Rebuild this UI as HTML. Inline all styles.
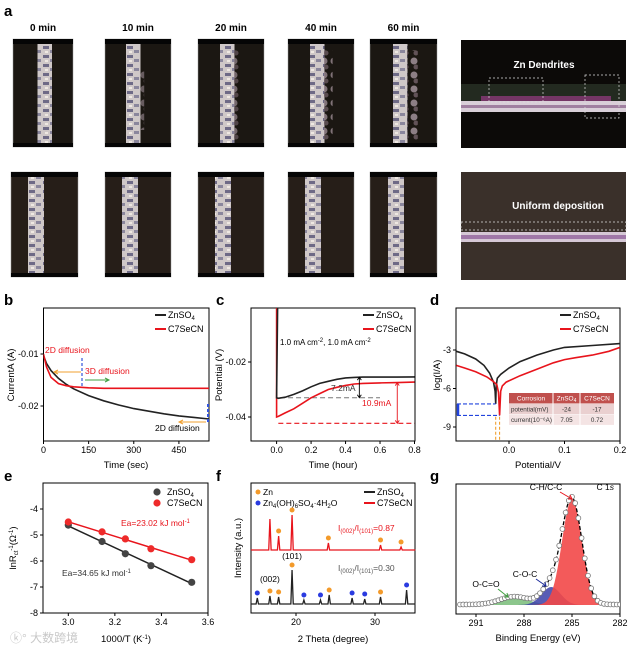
<!DOCTYPE html>
<html><head><meta charset="utf-8">
<style>
html,body{margin:0;padding:0;background:#fff;}
svg{display:block;font-family:"Liberation Sans",Arial,sans-serif;}
</style></head>
<body>
<svg id="fig" width="632" height="650" viewBox="0 0 632 650" xmlns="http://www.w3.org/2000/svg">
<defs>
<pattern id="stripTex" width="14" height="9" patternUnits="userSpaceOnUse">
<rect width="14" height="9" fill="#cfc8c8"/>
<rect x="1" y="1" width="6" height="3" fill="#6e6a86"/>
<rect x="8" y="5" width="5" height="3" fill="#8a869c"/>
<rect x="3" y="6" width="3" height="2" fill="#eee8e2"/>
</pattern>
<pattern id="blobTex" width="10" height="14" patternUnits="userSpaceOnUse">
<rect width="10" height="14" fill="none"/>
<circle cx="4" cy="5" r="3.5" fill="#9a8a92"/>
<circle cx="6" cy="11" r="2.5" fill="#6a5a60"/>
</pattern>
<clipPath id="clipB"><rect x="43.5" y="308" width="165.5" height="133"/></clipPath>
<clipPath id="clipC"><rect x="251" y="308" width="164" height="133"/></clipPath>
<clipPath id="clipD"><rect x="456" y="308" width="164" height="133"/></clipPath>
<clipPath id="clipG"><rect x="456" y="484" width="164" height="130"/></clipPath>
</defs>
<g id="panelA"></g>
<g id="charts"></g>
<text x="10" y="642" font-size="12" fill="#c8c8c8" font-family="'Liberation Sans','Noto Sans CJK SC',sans-serif">ⓚ° 大数跨境</text>
</svg>
<script>
// ---------- data ----------
const bTime=[0,10,25,50,75,100,150,200,250,300,350,400,450,500,550];
const bZnSO4=[-0.0103,-0.0118,-0.0132,-0.0147,-0.0158,-0.0167,-0.0180,-0.0190,-0.0198,-0.0205,-0.0210,-0.0215,-0.0219,-0.0222,-0.0225];
const bC7SeCN=[-0.0100,-0.0125,-0.0145,-0.0157,-0.0161,-0.0163,-0.0165,-0.0166,-0.0166,-0.0166,-0.0166,-0.0166,-0.0166,-0.0166,-0.0166];
const bXTicks=[0,150,300,450];
const bYTicks=[-0.01,-0.02];

const cHours=[0,0.01,0.05,0.1,0.15,0.2,0.25,0.3,0.35,0.4,0.45,0.5,0.6,0.7,0.8];
const cZnSO4=[-0.033,-0.0332,-0.0328,-0.0318,-0.0305,-0.029,-0.0278,-0.027,-0.0263,-0.0258,-0.0256,-0.0255,-0.0255,-0.0255,-0.0254];
const cC7SeCN=[-0.040,-0.0398,-0.0385,-0.037,-0.035,-0.033,-0.0315,-0.030,-0.0292,-0.0285,-0.028,-0.0278,-0.0276,-0.0275,-0.0273];
const cXTicks=[0.0,0.2,0.4,0.6,0.8];
const cYTicks=[-0.02,-0.04];

const dZnX=[-0.095,-0.08,-0.06,-0.045,-0.035,-0.028,-0.025,-0.024,-0.023,-0.021,-0.015,0,0.02,0.05,0.08,0.1,0.15,0.2];
const dZnY=[-3.1,-3.3,-3.7,-4.2,-4.8,-5.5,-6.2,-7.2,-5.8,-5.2,-4.9,-4.4,-3.9,-3.4,-3.0,-2.8,-2.65,-2.5];
const dC7X=[-0.095,-0.08,-0.06,-0.04,-0.03,-0.022,-0.019,-0.017,-0.015,-0.012,-0.005,0.02,0.05,0.08,0.1,0.12,0.15,0.18,0.2];
const dC7Y=[-4.2,-4.4,-4.7,-5.1,-5.4,-5.7,-6.3,-8.1,-6.2,-5.8,-5.5,-5.0,-4.5,-4.0,-3.75,-3.6,-3.4,-3.1,-2.8];
const dXTicks=[0.0,0.1,0.2];
const dYTicks=[-3,-6,-9];
const dTableRows=[["potential(mV)","-24","-17"],["current(10⁻⁶A)","7.05","0.72"]];

const eX=[3.0,3.145,3.245,3.355,3.53];
const eZnSO4=[-4.62,-5.25,-5.72,-6.18,-6.82];
const eC7SeCN=[-4.5,-4.88,-5.15,-5.53,-5.95];
const eXTicks=[3.0,3.2,3.4,3.6];
const eYTicks=[-4,-5,-6,-7,-8];

const fRedPos=[16.7,17.8,19.5,24.1,30.7,33.3];
const fRedH=[31,14,35,7,5,3];
const fBlackPos=[15.1,16.7,17.8,19.5,21.0,23.1,24.2,27.1,28.7,30.7,34.0];
const fBlackH=[6,8,7,34,4,4,9,6,5,7,14];
const fBlackPhase=["b","o","o","o","b","b","o","b","b","o","b"];
const fRedPhase=["n","o","o","o","o","o"];
const fXTicks=[20,30];

const gCenters=[285.0,286.3,288.6];
const gHeights=[1.0,0.17,0.075];
const gSigmas=[0.62,0.6,0.9];
const gColors=["#f24848","#3b3fa8","#7fc07f"];
const gXTicks=[291,288,285,282];

// ---------- helpers ----------
const NS='http://www.w3.org/2000/svg';
const svg=document.getElementById('charts');
function el(tag,attrs,parent){const e=document.createElementNS(NS,tag);for(const k in attrs)e.setAttribute(k,attrs[k]);(parent||svg).appendChild(e);return e;}
function txt(x,y,s,attrs,parent){const e=el('text',Object.assign({x:x,y:y,'font-size':9},attrs||{}),parent);e.innerHTML=s;return e;}
function lin(d0,d1,r0,r1){return v=>r0+(v-d0)*(r1-r0)/(d1-d0);}
function pathOf(xs,ys,fx,fy){return xs.map((v,i)=>(i?'L':'M')+fx(v).toFixed(1)+','+fy(ys[i]).toFixed(1)).join('');}
function box(x0,y0,x1,y1,name){const r=el('rect',{x:x0,y:y0,width:x1-x0,height:y1-y0,fill:'none',stroke:'#000','stroke-width':1});

return r;}
function xTicks(vals,fx,yb,fmt,name){vals.forEach(v=>{const t=el('line',{x1:fx(v),x2:fx(v),y1:yb,y2:yb+3,stroke:'#000'});


const l=txt(fx(v),yb+12,fmt(v),{'text-anchor':'middle'});

});}
function yTicks(vals,fy,xl,fmt,name){vals.forEach(v=>{const t=el('line',{x1:xl-3,x2:xl,y1:fy(v),y2:fy(v),stroke:'#000'});


const l=txt(xl-5,fy(v)+3,fmt(v),{'text-anchor':'end'});

});}
function label(x,y,s,name,attrs){const t=txt(x,y,s,attrs);

return t;}
function legendLine(x,y,color,s,name){const l=el('line',{x1:x,x2:x+11,y1:y,y2:y,stroke:color,'stroke-width':2});


label(x+13,y+3,s,name);}

// ---------- panel a ----------
const A=document.getElementById('panelA');
const times=["0 min","10 min","20 min","40 min","60 min"];
const topX=[[13,73],[105,171],[198,264],[288,354],[370,437]];
const botX=[[11,78],[105,171],[198,264],[288,354],[370,437]];
const topStrip=[37.5,126,220,310,393];
const botStrip=[28,122,215,305,388];
times.forEach((t,i)=>{
 const lt=txt((topX[i][0]+topX[i][1])/2,31,t,{'text-anchor':'middle','font-size':10,'font-weight':'bold'},A);
 
 
 const r1=el('rect',{x:topX[i][0],y:39,width:topX[i][1]-topX[i][0],height:108,fill:'#1b1712',stroke:'#999','stroke-width':0.5},A);
 
 
 el('rect',{x:topX[i][0],y:39,width:topX[i][1]-topX[i][0],height:5,fill:'#050505'},A);
 el('rect',{x:topX[i][0],y:143,width:topX[i][1]-topX[i][0],height:4,fill:'#050505'},A);
 const s1=el('rect',{x:topStrip[i],y:44,width:14.5,height:99,fill:'url(#stripTex)'},A);
 
 
 if(i>0){const b=el('rect',{x:topStrip[i]+14,y:50+(i>1?0:20),width:2+i*2.2,height:90-(i>1?0:30),fill:'url(#blobTex)',opacity:0.5+i*0.1},A);
 
 }
 const r2=el('rect',{x:botX[i][0],y:172,width:botX[i][1]-botX[i][0],height:105,fill:'#261e18',stroke:'#999','stroke-width':0.5},A);
 
 
 el('rect',{x:botX[i][0],y:172,width:botX[i][1]-botX[i][0],height:5,fill:'#050505'},A);
 el('rect',{x:botX[i][0],y:273,width:botX[i][1]-botX[i][0],height:4,fill:'#050505'},A);
 const s2=el('rect',{x:botStrip[i],y:177,width:16,height:96,fill:'url(#stripTex)'},A);
 
 
});
{
 const r=el('rect',{x:461,y:40,width:165,height:108,fill:'#0c0a08'},A);
 
 
 el('rect',{x:461,y:84,width:165,height:17,fill:'#3a4a38',opacity:0.5},A);
 el('rect',{x:481,y:96,width:130,height:8,fill:'#8a3a78',opacity:0.8},A);
 el('rect',{x:461,y:101,width:165,height:11,fill:'#d9cfd8'},A);
 el('rect',{x:461,y:105,width:165,height:3,fill:'#a080a0'},A);
 el('rect',{x:489,y:78,width:54,height:24,fill:'none',stroke:'#ddd','stroke-dasharray':'2,2','stroke-width':0.7},A);
 el('rect',{x:585,y:75,width:34,height:43,fill:'none',stroke:'#ddd','stroke-dasharray':'2,2','stroke-width':0.7},A);
 const t=txt(544,68,'Zn Dendrites',{'text-anchor':'middle','font-size':10,'font-weight':'bold',fill:'#fff'},A);
 
 
 const r2=el('rect',{x:461,y:172,width:165,height:108,fill:'#3a302a'},A);
 
 
 el('rect',{x:461,y:232,width:165,height:10,fill:'#d6c8d6'},A);
 el('rect',{x:461,y:235,width:165,height:4,fill:'#a078a8'},A);
 el('rect',{x:461,y:222,width:165,height:8,fill:'none',stroke:'#ddd','stroke-dasharray':'2,2','stroke-width':0.7},A);
 const u=txt(558,209,'Uniform deposition',{'text-anchor':'middle','font-size':10,'font-weight':'bold',fill:'#fff'},A);
 
 
}
const pa=txt(4,16,'a',{'font-size':15,'font-weight':'bold'},A);



// panel letters
[['b',4,305],['c',216,305],['d',430,305],['e',4,481],['f',216,481],['g',430,481]].forEach(p=>{
 const t=txt(p[1],p[2],p[0],{'font-size':15,'font-weight':'bold'});
 
 });

// ---------- panel b ----------
{
const fx=lin(0,550,43.5,209), fy=lin(-0.01,-0.02,354,406);
box(43.5,308,209,441,'panel-b-plot-area');
xTicks(bXTicks,fx,441,v=>v,'b-x');
yTicks(bYTicks,fy,43.5,v=>v.toFixed(2),'b-y');
label(126,468,'Time (sec)','b-x-axis-title',{'text-anchor':'middle','font-size':9.5});
label(14,375,'CurrentA (A)','b-y-axis-title',{'text-anchor':'middle','font-size':9.5,transform:'rotate(-90 14 375)'});
const g=el('g',{'clip-path':'url(#clipB)'});
const p1=el('path',{d:pathOf(bTime,bZnSO4,fx,fy),fill:'none',stroke:'#222','stroke-width':1.6},g);


const p2=el('path',{d:pathOf(bTime,bC7SeCN,fx,fy),fill:'none',stroke:'#e8141c','stroke-width':1.6},g);


legendLine(155,315,'#222','ZnSO<tspan font-size="6" dy="2">4</tspan>','b-legend-znso4');
legendLine(155,329,'#e8141c','C7SeCN','b-legend-c7secn');
label(45,353,'2D diffusion','b-2d-diffusion-label',{fill:'#e8141c','font-size':8.5});
label(85,374,'3D diffusion','b-3d-diffusion-label',{fill:'#e8141c','font-size':8.5});
label(155,431,'2D diffusion','b-2d-diffusion-label-2',{'font-size':8.5});
el('line',{x1:82,x2:82,y1:358,y2:387,stroke:'#3355dd','stroke-dasharray':'3,2','stroke-width':1.2});
el('line',{x1:208,x2:208,y1:404,y2:423,stroke:'#3355dd','stroke-dasharray':'3,2','stroke-width':2});
el('path',{d:'M81,372H55M58,370L54,372L58,374',fill:'none',stroke:'#f0a030','stroke-width':1});
el('path',{d:'M85,380H108M105,378L109,380L105,382',fill:'none',stroke:'#40a040','stroke-width':1});
el('path',{d:'M206,422H180M183,420L179,422L183,424',fill:'none',stroke:'#f0a030','stroke-width':1});
}

// ---------- panel c ----------
{
const fx=lin(0,0.8,276.6,414.5), fy=lin(-0.02,-0.04,362,417);
box(251,308,415,441,'panel-c-plot-area');
xTicks(cXTicks,fx,441,v=>v.toFixed(1),'c-x');
yTicks(cYTicks,fy,251,v=>v.toFixed(2),'c-y');
label(333,468,'Time (hour)','c-x-axis-title',{'text-anchor':'middle','font-size':9.5});
label(222,375,'Potential (V)','c-y-axis-title',{'text-anchor':'middle','font-size':9.5,transform:'rotate(-90 222 375)'});
const g=el('g',{'clip-path':'url(#clipC)'});
const dz=el('line',{x1:fx(0.02),x2:fx(0.6),y1:fy(cZnSO4[0]),y2:fy(cZnSO4[0]),stroke:'#777','stroke-dasharray':'5,3','stroke-width':1},g);


const dr=el('line',{x1:fx(0.01),x2:fx(0.8),y1:fy(-0.0423),y2:fy(-0.0423),stroke:'#e8141c','stroke-dasharray':'5,3','stroke-width':1.2},g);


const p2=el('path',{d:'M'+fx(0)+',308'+pathOf(cHours,cC7SeCN,fx,fy).replace('M','L'),fill:'none',stroke:'#e8141c','stroke-width':1.6},g);


const p1=el('path',{d:'M'+(fx(0)+1)+',308'+pathOf(cHours,cZnSO4,fx,fy).replace('M','L'),fill:'none',stroke:'#222','stroke-width':1.6},g);


el('path',{d:`M${fx(0.48)},${fy(-0.0255)}V${fy(-0.033)}M${fx(0.48)-2},${fy(-0.0255)+3}L${fx(0.48)},${fy(-0.0255)}L${fx(0.48)+2},${fy(-0.0255)+3}M${fx(0.48)-2},${fy(-0.033)-3}L${fx(0.48)},${fy(-0.033)}L${fx(0.48)+2},${fy(-0.033)-3}`,fill:'none',stroke:'#000','stroke-width':0.9});
el('path',{d:`M${fx(0.7)},${fy(-0.0275)}V${fy(-0.0423)}M${fx(0.7)-2},${fy(-0.0275)+3}L${fx(0.7)},${fy(-0.0275)}L${fx(0.7)+2},${fy(-0.0275)+3}M${fx(0.7)-2},${fy(-0.0423)-3}L${fx(0.7)},${fy(-0.0423)}L${fx(0.7)+2},${fy(-0.0423)-3}`,fill:'none',stroke:'#e8141c','stroke-width':0.9});
label(331,391,'7.2mA','c-7p2-label',{'font-size':8.5,fill:'#333'});
label(362,406,'10.9mA','c-10p9-label',{'font-size':8.5,fill:'#e8141c'});
label(280,345,'1.0 mA cm<tspan font-size="6" dy="-3">-2</tspan><tspan dy="3">, 1.0 mA cm</tspan><tspan font-size="6" dy="-3">-2</tspan>','c-condition-label',{'font-size':8});
legendLine(363,315,'#222','ZnSO<tspan font-size="6" dy="2">4</tspan>','c-legend-znso4');
legendLine(363,329,'#e8141c','C7SeCN','c-legend-c7secn');
}

// ---------- panel d ----------
{
const fx=lin(0,0.2,509,620), fy=lin(-3,-9,350,427);
box(456,308,620,441,'panel-d-plot-area');
xTicks(dXTicks,fx,441,v=>v.toFixed(1),'d-x');
yTicks(dYTicks,fy,456,v=>v,'d-y');
label(538,468,'Potential/V','d-x-axis-title',{'text-anchor':'middle','font-size':9.5});
label(440,375,'log(I/A)','d-y-axis-title',{'text-anchor':'middle','font-size':9.5,transform:'rotate(-90 440 375)'});
const g=el('g',{'clip-path':'url(#clipD)'});
const p1=el('path',{d:pathOf(dZnX,dZnY,fx,fy),fill:'none',stroke:'#222','stroke-width':1.6},g);


const p2=el('path',{d:pathOf(dC7X,dC7Y,fx,fy),fill:'none',stroke:'#e8141c','stroke-width':1.6},g);


el('line',{x1:457,x2:fx(-0.024),y1:fy(-7.2),y2:fy(-7.2),stroke:'#2244dd','stroke-dasharray':'4,2','stroke-width':1.1});
el('line',{x1:457,x2:fx(-0.017),y1:fy(-8.1),y2:fy(-8.1),stroke:'#2244dd','stroke-dasharray':'4,2','stroke-width':1.1});
el('line',{x1:458,x2:458,y1:fy(-7.2),y2:fy(-8.1),stroke:'#2244dd','stroke-width':2.5});
el('line',{x1:fx(-0.024),x2:fx(-0.024),y1:fy(-8.2),y2:441,stroke:'#f0a030','stroke-dasharray':'3,2','stroke-width':1.1});
el('line',{x1:fx(-0.017),x2:fx(-0.017),y1:fy(-8.2),y2:441,stroke:'#f0a030','stroke-dasharray':'3,2','stroke-width':1.1});
const cols=[509,553,580,614];
const th=el('rect',{x:509,y:393,width:105,height:10.5,fill:'#c0504d'});


['Corrosion','ZnSO<tspan font-size="5" dy="1.5">4</tspan>','C7SeCN'].forEach((h,i)=>{
 const t=txt((cols[i]+cols[i+1])/2,400.5,h,{'text-anchor':'middle','font-size':6.5,fill:'#fff'});
 
 });
dTableRows.forEach((row,r)=>{
 const rr=el('rect',{x:509,y:404+r*10.7,width:105,height:10.2,fill:r?'#f4e4e4':'#ead0d0'});
 
 
 row.forEach((c,i)=>{const t=txt(i?(cols[i]+cols[i+1])/2:511,411.5+r*10.7,c,{'text-anchor':i?'middle':'start','font-size':6.3,fill:'#333'});
 
 });
});
[553,580].forEach(x=>el('line',{x1:x,x2:x,y1:393,y2:425,stroke:'#fff','stroke-width':1}));
legendLine(560,315,'#222','ZnSO<tspan font-size="6" dy="2">4</tspan>','d-legend-znso4');
legendLine(560,329,'#e8141c','C7SeCN','d-legend-c7secn');
}

// ---------- panel e ----------
{
const fx=lin(3.0,3.6,68.3,208), fy=lin(-4,-8,509,613);
box(43,483,208,613,'panel-e-plot-area');
xTicks(eXTicks,fx,613,v=>v.toFixed(1),'e-x');
yTicks(eYTicks,fy,43,v=>v,'e-y');
label(126,642,'1000/T (K<tspan font-size="6" dy="-3">-1</tspan><tspan dy="3">)</tspan>','e-x-axis-title',{'text-anchor':'middle','font-size':9.5});
label(16,548,'lnR<tspan font-size="6" dy="2">ct</tspan><tspan font-size="6" dy="-5">-1</tspan><tspan dy="3">(Ω</tspan><tspan font-size="6" dy="-3">-1</tspan><tspan dy="3">)</tspan>','e-y-axis-title',{'text-anchor':'middle','font-size':9.5,transform:'rotate(-90 16 548)'});
function fit(xs,ys){const n=xs.length,mx=xs.reduce((a,b)=>a+b)/n,my=ys.reduce((a,b)=>a+b)/n;let sxy=0,sxx=0;xs.forEach((x,i)=>{sxy+=(x-mx)*(ys[i]-my);sxx+=(x-mx)*(x-mx);});const m=sxy/sxx;return [m,my-m*mx];}
[[eZnSO4,'#222','#444','znso4'],[eC7SeCN,'#e8141c','#ee2a2a','c7secn']].forEach(s=>{
 const f=fit(eX,s[0]);
 const ln=el('line',{x1:fx(eX[0]),x2:fx(eX[eX.length-1]),y1:fy(f[0]*eX[0]+f[1]),y2:fy(f[0]*eX[eX.length-1]+f[1]),stroke:s[1],'stroke-width':1.5});
 
 
 eX.forEach((x,i)=>{const c=el('circle',{cx:fx(x),cy:fy(s[0][i]),r:3.6,fill:s[2]});
 
 });
});
const l1=el('circle',{cx:157,cy:492,r:3.6,fill:'#444'});


label(167,495,'ZnSO<tspan font-size="6" dy="2">4</tspan>','e-legend-znso4');
const l2=el('circle',{cx:157,cy:503,r:3.6,fill:'#ee2a2a'});


label(167,506,'C7SeCN','e-legend-c7secn');
label(121,526,'Ea=23.02 kJ mol<tspan font-size="6" dy="-3">-1</tspan>','e-ea-c7secn-label',{fill:'#e8141c','font-size':8.5});
label(62,576,'Ea=34.65 kJ mol<tspan font-size="6" dy="-3">-1</tspan>','e-ea-znso4-label',{fill:'#333','font-size':8.5});
}

// ---------- panel f ----------
{
const fx=lin(20,30,296,375);
const redBase=550, blackBase=604;
box(251,483,415,613,'panel-f-plot-area');
xTicks(fXTicks,fx,613,v=>v,'f-x');
label(333,642,'2 Theta (degree)','f-x-axis-title',{'text-anchor':'middle','font-size':9.5});
label(241,548,'Intensity (a.u.)','f-y-axis-title',{'text-anchor':'middle','font-size':9.5,transform:'rotate(-90 241 548)'});
function xrd(pos,h,base){let d='M'+fx(14.3)+','+base;const idx=pos.map((p,i)=>i).sort((a,b)=>pos[a]-pos[b]);idx.forEach(i=>{const x=fx(pos[i]);d+='L'+(x-1.2)+','+base+'L'+x+','+(base-h[i])+'L'+(x+1.2)+','+base;});d+='L'+fx(35.1)+','+base;return d;}
const pr=el('path',{d:xrd(fRedPos,fRedH,redBase),fill:'none',stroke:'#e8141c','stroke-width':1.3});


const pb=el('path',{d:xrd(fBlackPos,fBlackH,blackBase),fill:'none',stroke:'#222','stroke-width':1.3});


fRedPos.forEach((p,i)=>{if(fRedPhase[i]==='n')return;const c=el('circle',{cx:fx(p),cy:redBase-fRedH[i]-5,r:2.5,fill:'#f39a2a'});
 
 });
fBlackPos.forEach((p,i)=>{const c=el('circle',{cx:fx(p),cy:blackBase-fBlackH[i]-5,r:2.5,fill:fBlackPhase[i]==='o'?'#f39a2a':'#2a3be0'});
 
 });
label(fx(16.7),582,'(002)','f-002-label',{'text-anchor':'middle','font-size':8.5});
label(fx(19.5),559,'(101)','f-101-label',{'text-anchor':'middle','font-size':8.5});
label(338,531,'I<tspan font-size="6" dy="2">(002)</tspan><tspan dy="-2">/I</tspan><tspan font-size="6" dy="2">(101)</tspan><tspan dy="-2">=0.87</tspan>','f-ratio-c7secn',{fill:'#e8141c','font-size':8.5});
label(338,571,'I<tspan font-size="6" dy="2">(002)</tspan><tspan dy="-2">/I</tspan><tspan font-size="6" dy="2">(101)</tspan><tspan dy="-2">=0.30</tspan>','f-ratio-znso4',{fill:'#555','font-size':8.5});
const z1=el('circle',{cx:258,cy:492,r:2.5,fill:'#f39a2a'});


label(263,495,'Zn','f-legend-zn',{'font-size':8.5});
const z2=el('circle',{cx:258,cy:503,r:2.5,fill:'#2a3be0'});


label(263,506,'Zn<tspan font-size="6" dy="2">4</tspan><tspan dy="-2">(OH)</tspan><tspan font-size="6" dy="2">6</tspan><tspan dy="-2">SO</tspan><tspan font-size="6" dy="2">4</tspan><tspan dy="-2">·4H</tspan><tspan font-size="6" dy="2">2</tspan><tspan dy="-2">O</tspan>','f-legend-zhs',{'font-size':8.5});
legendLine(364,492,'#222','ZnSO<tspan font-size="6" dy="2">4</tspan>','f-legend-znso4');
legendLine(364,503,'#e8141c','C7SeCN','f-legend-c7secn');
}

// ---------- panel g ----------
{
const fx=lin(291,282,476,620), fy=lin(0,1,605,499);
box(456,484,620,614,'panel-g-plot-area');
xTicks(gXTicks,fx,614,v=>v,'g-x');
label(538,641,'Binding Energy (eV)','g-x-axis-title',{'text-anchor':'middle','font-size':9.5});
const g=el('g',{'clip-path':'url(#clipG)'});
const E=[];for(let e=292;e>=281.99;e-=0.1)E.push(+e.toFixed(2));
function comp(k,e){return gHeights[k]*Math.exp(-Math.pow(e-gCenters[k],2)/(2*gSigmas[k]*gSigmas[k]));}
[2,1,0].forEach(k=>{let d='M'+fx(E[0])+','+fy(0);E.forEach(e=>{d+='L'+fx(e).toFixed(1)+','+fy(comp(k,e)).toFixed(1);});d+='L'+fx(E[E.length-1])+','+fy(0)+'Z';
 const p=el('path',{d:d,fill:gColors[k],opacity:k===1?0.85:0.9},g);
 
 });
const env=E.map(e=>comp(0,e)+comp(1,e)+comp(2,e));
const pe=el('path',{d:pathOf(E,env,fx,fy),fill:'none',stroke:'#000','stroke-width':1.3,'stroke-dasharray':'4,2'},g);


E.forEach((e,i)=>{if(i%2)return;const c=el('circle',{cx:fx(e),cy:fy(env[i])-0.5,r:2.4,fill:'#fff',stroke:'#777','stroke-width':0.8},g);
 
 });
label(546,490,'C-H/C-C','g-chc-label',{'text-anchor':'middle','font-size':8.5});
label(614,490,'C 1<tspan font-style="italic">s</tspan>','g-c1s-label',{'text-anchor':'end','font-size':8.5});
label(525,577,'C-O-C','g-coc-label',{'text-anchor':'middle','font-size':8.5});
label(486,587,'O-C=O','g-oco-label',{'text-anchor':'middle','font-size':8.5});
el('path',{d:'M560,492L572,499M568,499L572,499L570,495',fill:'none',stroke:'#e8141c','stroke-width':1});
el('path',{d:'M536,579L546,586M542,586L546,586L545,582',fill:'none',stroke:'#1a2a9a','stroke-width':1});
el('path',{d:'M498,589L508,597M504,597L508,597L507,593',fill:'none',stroke:'#40a040','stroke-width':1});
}
</script>
</body></html>
